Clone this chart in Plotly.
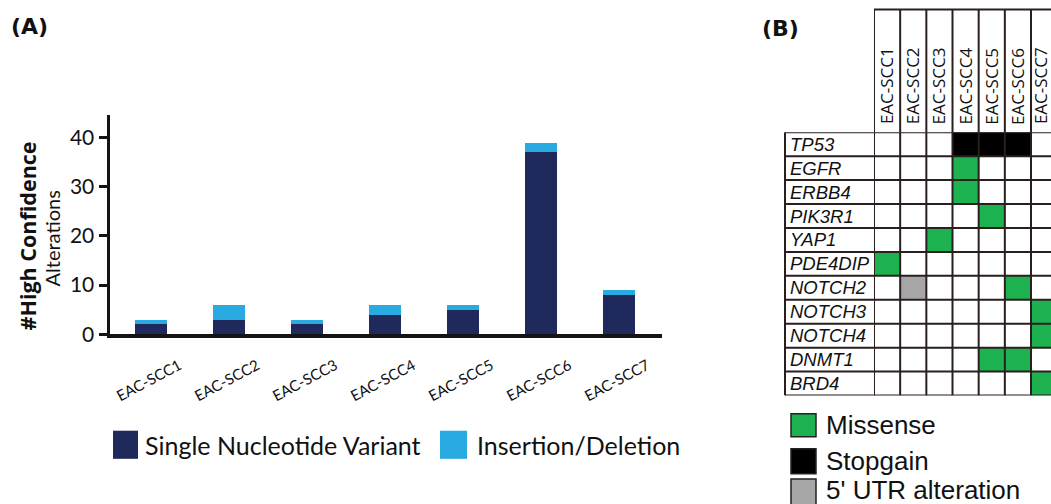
import plotly.graph_objects as go

# ---------------- data ----------------
samples = ["EAC-SCC1", "EAC-SCC2", "EAC-SCC3", "EAC-SCC4", "EAC-SCC5", "EAC-SCC6", "EAC-SCC7"]
snv_counts = [2, 3, 2, 4, 5, 37, 8]
indel_counts = [1, 3, 1, 2, 1, 2, 1]
y_tick_values = [0, 10, 20, 30, 40]

genes = ["TP53", "EGFR", "ERBB4", "PIK3R1", "YAP1", "PDE4DIP",
         "NOTCH2", "NOTCH3", "NOTCH4", "DNMT1", "BRD4"]
# 0 = none, 1 = Missense, 2 = Stopgain, 3 = 5' UTR alteration
tp53 = [0, 0, 0, 2, 2, 2, 0]
egfr = [0, 0, 0, 1, 0, 0, 0]
erbb4 = [0, 0, 0, 1, 0, 0, 0]
pik3r1 = [0, 0, 0, 0, 1, 0, 0]
yap1 = [0, 0, 1, 0, 0, 0, 0]
pde4dip = [1, 0, 0, 0, 0, 0, 0]
notch2 = [0, 3, 0, 0, 0, 1, 0]
notch3 = [0, 0, 0, 0, 0, 0, 1]
notch4 = [0, 0, 0, 0, 0, 0, 1]
dnmt1 = [0, 0, 0, 0, 1, 1, 0]
brd4 = [0, 0, 0, 0, 0, 0, 1]
alteration_types = ["Missense", "Stopgain", "5' UTR alteration"]
bar_series = ["Single Nucleotide Variant", "Insertion/Deletion"]

# ---------------- style ----------------
W, H = 1051, 504          # design coordinates (reference pixels)
FIG_H = 517               # page height actually rendered
NAVY = "#1f295b"
CYAN = "#29abe2"
GREEN = "#1db150"
BLACK = "#000000"
GRAY = "#a7a6a6"
GRID = "#2a1f1f"
AX = "#141414"


def PX(x):
    return x / W


def PY(y):
    return 1 - y / H


z = [tp53, egfr, erbb4, pik3r1, yap1, pde4dip, notch2, notch3, notch4, dnmt1, brd4]

fig = go.Figure()

# Panel A: stacked bars
fig.add_trace(go.Bar(x=list(range(len(samples))), y=snv_counts, name=bar_series[0],
                     marker=dict(color=NAVY, line=dict(width=0)), width=0.406,
                     xaxis="x", yaxis="y", hoverinfo="skip"))
fig.add_trace(go.Bar(x=list(range(len(samples))), y=indel_counts, name=bar_series[1],
                     marker=dict(color=CYAN, line=dict(width=0)), width=0.406,
                     xaxis="x", yaxis="y", hoverinfo="skip"))

# Panel B: heatmap
cs = [[0, "#ffffff"], [1 / 6, "#ffffff"], [1 / 6, GREEN], [0.5, GREEN],
      [0.5, BLACK], [5 / 6, BLACK], [5 / 6, GRAY], [1, GRAY]]
fig.add_trace(go.Heatmap(z=z, x=list(range(len(samples))), y=list(range(len(genes))),
                         colorscale=cs, zmin=0, zmax=3, showscale=False,
                         xaxis="x2", yaxis="y2", hoverinfo="skip"))

shapes = []
annotations = []

# grid lines of panel B
grid_top = PY(9.5)
for i in range(len(samples) + 1):
    xv = i - 0.5
    shapes.append(dict(type="line", xref="x2", yref="y2", x0=xv, x1=xv, y0=-0.5, y1=len(genes) - 0.5,
                       line=dict(color=GRID, width=2), layer="above"))
    shapes.append(dict(type="line", xref="x2", yref="paper", x0=xv, x1=xv, y0=PY(131.7), y1=grid_top,
                       line=dict(color=GRID, width=2), layer="above"))
shapes.append(dict(type="line", xref="x2", yref="paper", x0=-0.5, x1=len(samples) - 0.5,
                   y0=grid_top, y1=grid_top, line=dict(color=GRID, width=2), layer="above"))
for j in range(len(genes) + 1):
    yv = j - 0.5
    shapes.append(dict(type="line", xref="paper", yref="y2", x0=PX(785), x1=1.0, y0=yv, y1=yv,
                       line=dict(color=GRID, width=2), layer="above"))
shapes.append(dict(type="line", xref="paper", yref="y2", x0=PX(785), x1=PX(785), y0=-0.5,
                   y1=len(genes) - 0.5, line=dict(color=GRID, width=2), layer="above"))

# gene labels
for j, g in enumerate(genes):
    annotations.append(dict(xref="paper", yref="y2", x=PX(788), y=j, text="<i>" + g + "</i>",
                            showarrow=False, xanchor="left", yanchor="middle",
                            font=dict(family="Liberation Sans", size=18.5, color="#111")))
# column headers
for i, s in enumerate(samples):
    annotations.append(dict(xref="x2", yref="paper", x=i, y=PY(126), text=s, showarrow=False,
                            textangle=-90, xanchor="center", yanchor="bottom",
                            xshift=(-4 if i == len(samples) - 1 else -1),
                            font=dict(family="Open Sans", size=17, color="#111")))

# Panel B legend
leg_cols = [GREEN, BLACK, GRAY]
leg_boxes = [(412, 435), (447, 472), (477, 503)]
leg_text_y = [423, 459, 488.5]
for (y0, y1), c, t, ty in zip(leg_boxes, leg_cols, alteration_types, leg_text_y):
    shapes.append(dict(type="rect", xref="paper", yref="paper", x0=PX(791), x1=PX(816),
                       y0=PY(y1), y1=PY(y0), fillcolor=c, line=dict(color="#222", width=1.5)))
    annotations.append(dict(xref="paper", yref="paper", x=PX(824), y=PY(ty), text=t,
                            showarrow=False, xanchor="left", yanchor="middle",
                            font=dict(family="Liberation Sans", size=26, color="#111")))

# Panel A x labels (rotated, centred under bars)
for i, s in enumerate(samples):
    annotations.append(dict(xref="x", yref="paper", x=i, y=PY(378), text=s, showarrow=False,
                            textangle=-28, xanchor="center", yanchor="middle", xshift=-3,
                            font=dict(family="Lato", size=15, color="#111")))

# Panel A y title
annotations.append(dict(xref="paper", yref="paper", x=PX(27.5), y=PY(235), text="<b>#High Confidence</b>",
                        showarrow=False, textangle=-90, xanchor="center", yanchor="middle",
                        font=dict(family="Open Sans", size=21.5, color="#111")))
annotations.append(dict(xref="paper", yref="paper", x=PX(51.5), y=PY(238), text="Alterations",
                        showarrow=False, textangle=-90, xanchor="center", yanchor="middle",
                        font=dict(family="Lato", size=20, color="#111")))

# Panel A legend
for (x0, x1), c, t, tx in zip([(113, 138), (440, 467)], [NAVY, CYAN], bar_series, [143, 475]):
    shapes.append(dict(type="rect", xref="paper", yref="paper", x0=PX(x0), x1=PX(x1),
                       y0=PY(457), y1=PY(429), fillcolor=c, line=dict(width=0)))
    annotations.append(dict(xref="paper", yref="paper", x=PX(tx), y=PY(443), text=t,
                            showarrow=False, xanchor="left", yanchor="middle",
                            font=dict(family="Lato", size=25, color="#111")))

# panel labels
annotations.append(dict(xref="paper", yref="paper", x=PX(9), y=PY(26), text="<b>(A)</b>",
                        showarrow=False, xanchor="left", yanchor="middle",
                        font=dict(family="DejaVu Sans", size=22, color="#111")))
annotations.append(dict(xref="paper", yref="paper", x=PX(760), y=PY(28), text="<b>(B)</b>",
                        showarrow=False, xanchor="left", yanchor="middle",
                        font=dict(family="DejaVu Sans", size=22, color="#111")))

fig.update_layout(
    width=W, height=FIG_H, margin=dict(l=0, r=0, t=0, b=0),
    paper_bgcolor="white", plot_bgcolor="white",
    barmode="stack", showlegend=False,
    xaxis=dict(domain=[PX(109.5), PX(662)], range=[-0.532, 6.551], showticklabels=False,
               ticks="", showgrid=False, zeroline=False, showline=True, linewidth=4,
               linecolor=AX, fixedrange=True),
    yaxis=dict(domain=[PY(333), PY(115)], range=[0, 44.5], tickvals=y_tick_values,
               ticks="outside", ticklen=8, tickwidth=2.5, tickcolor=AX,
               showline=True, linewidth=3, linecolor=AX, showgrid=False, zeroline=False,
               tickfont=dict(family="Lato", size=21, color="#111"), fixedrange=True),
    xaxis2=dict(domain=[PX(874), 1.0], range=[-0.5, 6.264], showticklabels=False, ticks="",
                showgrid=False, zeroline=False, showline=False, fixedrange=True),
    yaxis2=dict(domain=[PY(394), PY(131.7)], range=[len(genes) - 0.5, -0.5], showticklabels=False,
                ticks="", showgrid=False, zeroline=False, showline=False, fixedrange=True),
    shapes=shapes, annotations=annotations,
)

post = (
    "var d=document.documentElement, b=document.body;"
    "d.style.margin='0';d.style.padding='0';d.style.overflow='hidden';"
    "b.style.margin='0';b.style.padding='0';b.style.overflow='hidden';"
)
fig.write_html("out.html", config={"displayModeBar": False}, post_script=post)
